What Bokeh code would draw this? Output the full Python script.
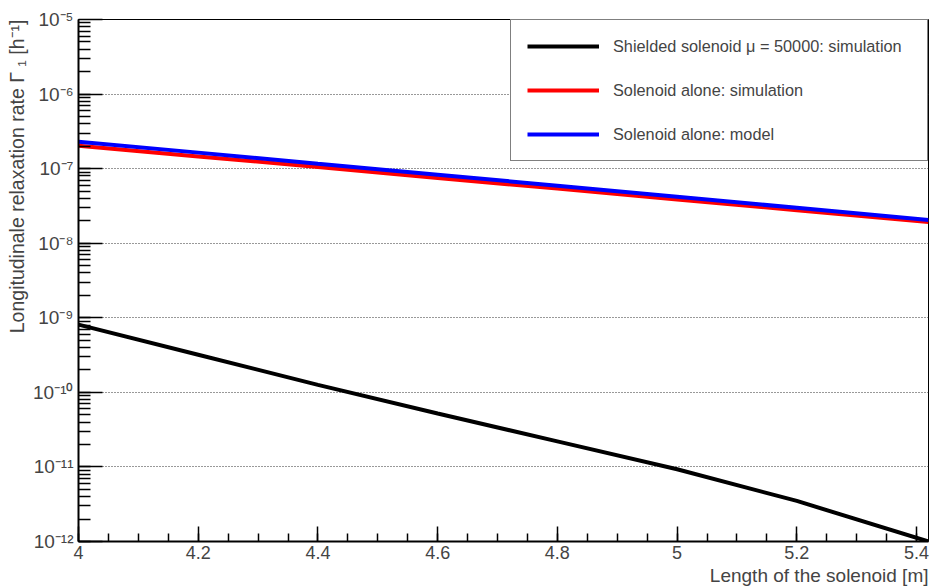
from bokeh.plotting import figure
from bokeh.models import FixedTicker, Range1d, Legend, LegendItem, Title
from bokeh.embed import file_html
from bokeh.resources import INLINE

# ---- data ----
length_m = [4.0, 4.2, 4.4, 4.6, 4.8, 5.0, 5.2, 5.42]
shielded_sim = [8.1e-10, 3.2e-10, 1.26e-10, 5.2e-11, 2.2e-11, 9.3e-12, 3.5e-12, 1.0e-12]
alone_sim = [2.03e-7, 1.46e-7, 1.05e-7, 7.5e-8, 5.4e-8, 3.86e-8, 2.77e-8, 1.92e-8]
alone_model = [2.3e-7, 1.64e-7, 1.16e-7, 8.3e-8, 5.9e-8, 4.2e-8, 2.98e-8, 2.05e-8]

series_names = ["Shielded solenoid \u03bc = 50000: simulation",
                "Solenoid alone: simulation",
                "Solenoid alone: model"]

x_ticks = [4.0, 4.2, 4.4, 4.6, 4.8, 5.0, 5.2, 5.4]
x_tick_labels = ["4", "4.2", "4.4", "4.6", "4.8", "5", "5.2", "5.4"]
x_minor = [4.0 + 0.05 * i for i in range(29)]

y_exponents = [-12, -11, -10, -9, -8, -7, -6, -5]
y_tick_labels = ["10\u207b\u00b9\u00b2", "10\u207b\u00b9\u00b9", "10\u207b\u00b9\u2070", "10\u207b\u2079",
                 "10\u207b\u2078", "10\u207b\u2077", "10\u207b\u2076", "10\u207b\u2075"]

FONT = "Liberation Sans"

y_ticks = [10.0 ** e for e in y_exponents]
y_minor = [k * 10.0 ** e for e in y_exponents[:-1] for k in range(1, 10)]

p = figure(width=930, height=586, y_axis_type="log",
           x_range=Range1d(4.0, 5.42), y_range=Range1d(1e-12, 1e-5),
           output_backend="svg", toolbar_location=None,
           min_border_left=50, min_border_right=2, min_border_top=19, min_border_bottom=8)
p.background_fill_color = "white"
p.border_fill_color = "white"
p.outline_line_color = "black"
p.outline_line_width = 1

r_black = p.line(length_m, shielded_sim, line_color="black", line_width=4)
r_red = p.line(length_m, alone_sim, line_color="#ff0000", line_width=4)
r_blue = p.line(length_m, alone_model, line_color="#0000ff", line_width=4)

# axes
xa = p.xaxis[0]
xa.ticker = FixedTicker(ticks=x_ticks, minor_ticks=x_minor)
xa.major_label_overrides = {t: l for t, l in zip(x_ticks, x_tick_labels)}
xa.major_tick_in = 15
xa.major_tick_out = 0
xa.minor_tick_in = 8
xa.minor_tick_out = 0
xa.axis_line_width = 2
xa.major_tick_line_width = 1.5
xa.minor_tick_line_width = 1.5
xa.major_label_text_font = FONT
xa.major_label_text_font_size = "18px"
xa.major_label_standoff = 4

ya = p.yaxis[0]
ya.ticker = FixedTicker(ticks=y_ticks, minor_ticks=y_minor)
ya.major_label_overrides = {t: l for t, l in zip(y_ticks, y_tick_labels)}
ya.major_tick_in = 24
ya.major_tick_out = 0
ya.minor_tick_in = 12
ya.minor_tick_out = 0
ya.axis_line_width = 2
ya.major_tick_line_width = 1.5
ya.minor_tick_line_width = 1.5
ya.major_label_text_font = FONT
ya.major_label_text_font_size = "19px"
ya.major_label_standoff = 5

p.xgrid.grid_line_color = None
p.ygrid.grid_line_color = "#333333"
p.ygrid.grid_line_dash = "1 2"
p.ygrid.grid_line_width = 1
p.ygrid.ticker = FixedTicker(ticks=y_ticks[1:-1])

# axis titles, aligned to the end as in the reference
p.add_layout(Title(text="Length of the solenoid [m]", align="right",
                   text_font=FONT, text_font_size="19px", text_font_style="normal",
                   standoff=2, offset=0), "below")
p.add_layout(Title(text="Longitudinale relaxation rate \u0393 \u2081 [h\u207b\u00b9]", align="right",
                   text_font=FONT, text_font_size="19.5px", text_font_style="normal",
                   standoff=6, offset=0), "left")

legend = Legend(items=[LegendItem(label=series_names[0], renderers=[r_black]),
                       LegendItem(label=series_names[1], renderers=[r_red]),
                       LegendItem(label=series_names[2], renderers=[r_blue])],
                location="top_right", margin=0, padding=16, spacing=24,
                glyph_width=72, glyph_height=20, label_height=20, label_standoff=14,
                label_width=298,
                label_text_font=FONT, label_text_font_size="16.3px",
                border_line_color="black", border_line_width=1,
                background_fill_color="white", background_fill_alpha=1)
p.add_layout(legend)

open("out.html", "w").write(file_html(p, INLINE))
